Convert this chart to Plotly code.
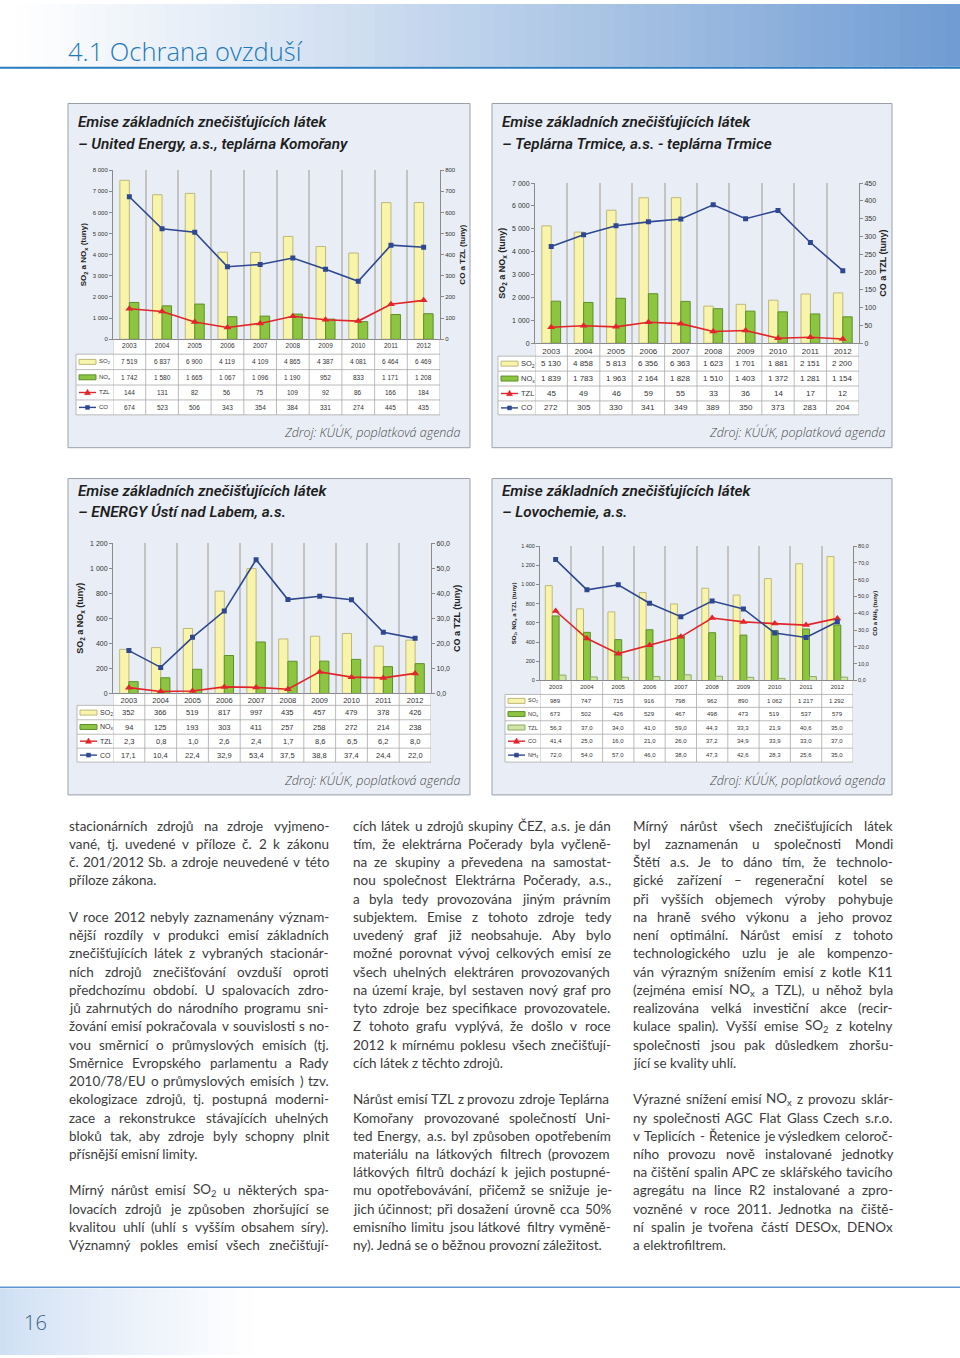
import re
import struct
import subprocess
import plotly.graph_objects as go

W, H = 960, 1358


def px(x):
    return x / W


def py(y):
    return 1 - y / H


# ---------------- DATA ----------------
years = ["2003", "2004", "2005", "2006", "2007", "2008", "2009", "2010", "2011", "2012"]

# United Energy, a.s., teplárna Komořany
ue_so2 = [7519, 6837, 6900, 4119, 4109, 4865, 4387, 4081, 6464, 6469]
ue_nox = [1742, 1580, 1665, 1067, 1096, 1190, 952, 833, 1171, 1208]
ue_tzl = [144, 131, 82, 56, 75, 109, 92, 86, 166, 184]
ue_co = [674, 523, 506, 343, 354, 384, 331, 274, 445, 435]

# Teplárna Trmice, a.s. - teplárna Trmice
tt_so2 = [5130, 4858, 5813, 6356, 6363, 1623, 1701, 1881, 2151, 2200]
tt_nox = [1839, 1783, 1963, 2164, 1828, 1510, 1403, 1372, 1281, 1154]
tt_tzl = [45, 49, 46, 59, 55, 33, 36, 14, 17, 12]
tt_co = [272, 305, 330, 341, 349, 389, 350, 373, 283, 204]

# ENERGY Ústí nad Labem, a.s.
eu_so2 = [352, 366, 519, 817, 997, 435, 457, 479, 378, 426]
eu_nox = [94, 125, 193, 303, 411, 257, 258, 272, 214, 238]
eu_tzl = [2.3, 0.8, 1.0, 2.6, 2.4, 1.7, 8.6, 6.5, 6.2, 8.0]
eu_co = [17.1, 10.4, 22.4, 32.9, 53.4, 37.5, 38.8, 37.4, 24.4, 22.0]

# Lovochemie, a.s.
lc_so2 = [989, 747, 715, 916, 798, 962, 890, 1062, 1217, 1292]
lc_nox = [673, 502, 426, 529, 467, 498, 473, 519, 537, 579]
lc_tzl = [56.3, 37.0, 34.0, 41.0, 59.0, 44.3, 33.3, 21.9, 40.6, 35.0]
lc_co = [41.4, 25.0, 16.0, 21.0, 26.0, 37.2, 34.9, 33.9, 33.0, 37.0]
lc_nh3 = [72.0, 54.0, 57.0, 46.0, 38.0, 47.3, 42.6, 28.3, 25.6, 35.0]

page_title = "4.1 Ochrana ovzduší"
panel_head = "Emise základních znečišťujících látek"
panel_names = ["– United Energy, a.s., teplárna Komořany",
               "– Teplárna Trmice, a.s. - teplárna Trmice",
               "– ENERGY Ústí nad Labem, a.s.",
               "– Lovochemie, a.s."]
source_text = "Zdroj: KÚÚK, poplatková agenda"
page_number = "16"

col1 = [
    "stacionárních zdrojů na zdroje vyjmeno-",
    "vané, tj. uvedené v příloze č. 2 k zákonu",
    "č. 201/2012 Sb. a zdroje neuvedené v této",
    "příloze zákona.",
    "",
    "V roce 2012 nebyly zaznamenány význam-",
    "nější rozdíly v produkci emisí základních",
    "znečišťujících látek z vybraných stacionár-",
    "ních zdrojů znečišťování ovzduší oproti",
    "předchozímu období. U spalovacích zdro-",
    "jů zahrnutých do národního programu sni-",
    "žování emisí pokračovala v souvislosti s no-",
    "vou směrnicí o průmyslových emisích (tj.",
    "Směrnice Evropského parlamentu a Rady",
    "2010/78/EU o průmyslových emisích ) tzv.",
    "ekologizace zdrojů, tj. postupná moderni-",
    "zace a rekonstrukce stávajících uhelných",
    "bloků tak, aby zdroje byly schopny plnit",
    "přísnější emisní limity.",
    "",
    "Mírný nárůst emisí SO<sub>2</sub> u některých spa-",
    "lovacích zdrojů je způsoben zhoršující se",
    "kvalitou uhlí (uhlí s vyšším obsahem síry).",
    "Významný pokles emisí všech znečišťují-",
]
col2 = [
    "cích látek u zdrojů skupiny ČEZ, a.s. je dán",
    "tím, že elektrárna Počerady byla vyčleně-",
    "na ze skupiny a převedena na samostat-",
    "nou společnost Elektrárna Počerady, a.s.,",
    "a byla tedy provozována jiným právním",
    "subjektem. Emise z tohoto zdroje tedy",
    "uvedený graf již neobsahuje. Aby bylo",
    "možné porovnat vývoj celkových emisí ze",
    "všech uhelných elektráren provozovaných",
    "na území kraje, byl sestaven nový graf pro",
    "tyto zdroje bez specifikace provozovatele.",
    "Z tohoto grafu vyplývá, že došlo v roce",
    "2012 k mírnému poklesu všech znečišťují-",
    "cích látek z těchto zdrojů.",
    "",
    "Nárůst emisí TZL z provozu zdroje Teplárna",
    "Komořany provozované společností Uni-",
    "ted Energy, a.s. byl způsoben opotřebením",
    "materiálu na látkových filtrech (provozem",
    "látkových filtrů dochází k jejich postupné-",
    "mu opotřebovávání, přičemž se snižuje je-",
    "jich účinnost; při dosažení úrovně cca 50%",
    "emisního limitu jsou látkové filtry vyměně-",
    "ny). Jedná se o běžnou provozní záležitost.",
]
col3 = [
    "Mírný nárůst všech znečišťujících látek",
    "byl zaznamenán u společnosti Mondi",
    "Štětí a.s. Je to dáno tím, že technolo-",
    "gické zařízení – regenerační kotel se",
    "při vyšších objemech výroby pohybuje",
    "na hraně svého výkonu a jeho provoz",
    "není optimální. Nárůst emisí z tohoto",
    "technologického uzlu je ale kompenzo-",
    "ván výrazným snížením emisí z kotle K11",
    "(zejména emisí NO<sub>x</sub> a TZL), u něhož byla",
    "realizována velká investiční akce (recir-",
    "kulace spalin). Vyšší emise SO<sub>2</sub> z kotelny",
    "společnosti jsou pak důsledkem zhoršu-",
    "jící se kvality uhlí.",
    "",
    "Výrazné snížení emisí NO<sub>x</sub> z provozu sklár-",
    "ny společnosti AGC Flat Glass Czech s.r.o.",
    "v Teplicích - Řetenice je výsledkem celoroč-",
    "ního provozu nově instalované jednotky",
    "na čištění spalin APC ze sklářského tavicího",
    "agregátu na lince R2 instalované a zpro-",
    "vozněné v roce 2011. Jednotka na čiště-",
    "ní spalin je tvořena částí DESOx, DENOx",
    "a elektrofiltrem.",
]

# ---------------- STYLES ----------------
SO2_FILL, SO2_EDGE = "#f8f4aa", "#bdb87c"
NOX_FILL, NOX_EDGE = "#8dc540", "#5f8f2c"
TZB_FILL, TZB_EDGE = "#cfe4a6", "#8aab62"
RED, BLUE = "#e2242b", "#2f4791"
GRID = "#c3c3c3"
AX = "#8a8a8a"
TXT = "#333333"
CHART_FONT = "Liberation Sans, Arial, sans-serif"
BODY_FONT = "Lato"

bar_style = {"so2": (SO2_FILL, SO2_EDGE), "nox": (NOX_FILL, NOX_EDGE), "tzb": (TZB_FILL, TZB_EDGE)}
line_style = {"red": (RED, "triangle-up", 7), "blue": (BLUE, "square", 5)}

SO2L, NOXL, NH3L = "SO<sub>2</sub>", "NO<sub>x</sub>", "NH<sub>3</sub>"

charts = [
    dict(x0=113, x1=440, ytop=167, y0=337, tab=76, rows=[337, 352, 367.5, 383, 398, 413],
         lmax=8000, ldt=1000, rmax=800, rdt=100, rfmt="d", tickfs=6, tabfs=6.5, titlefs=8,
         ltitle="SO<sub>2</sub> a NO<sub>x</sub> (tuny)", rtitle="CO a TZL (tuny)", bw=0.29,
         series=[("bar", SO2L, ue_so2, "so2", "int"), ("bar", NOXL, ue_nox, "nox", "int"),
                 ("line", "TZL", ue_tzl, "red", "int"), ("line", "CO", ue_co, "blue", "int")]),
    dict(x0=535, x1=859, ytop=180, y0=341, tab=498, rows=[341, 354, 369, 384, 399, 413],
         lmax=7000, ldt=1000, rmax=450, rdt=50, rfmt="d", tickfs=7, tabfs=8, titlefs=9,
         ltitle="SO<sub>2</sub> a NO<sub>x</sub> (tuny)", rtitle="CO a TZL (tuny)", bw=0.29,
         series=[("bar", SO2L, tt_so2, "so2", "int"), ("bar", NOXL, tt_nox, "nox", "int"),
                 ("line", "TZL", tt_tzl, "red", "int"), ("line", "CO", tt_co, "blue", "int")]),
    dict(x0=113, x1=431, ytop=542, y0=693, tab=77, rows=[693, 705, 719.5, 734, 748, 762],
         lmax=1200, ldt=200, rmax=60, rdt=10, rfmt=".1f", tickfs=7, tabfs=7.5, titlefs=9,
         ltitle="SO<sub>2</sub> a NO<sub>x</sub> (tuny)", rtitle="CO a TZL (tuny)", bw=0.29,
         series=[("bar", SO2L, eu_so2, "so2", "int"), ("bar", NOXL, eu_nox, "nox", "int"),
                 ("line", "TZL", eu_tzl, "red", "dec"), ("line", "CO", eu_co, "blue", "dec")]),
    dict(x0=540, x1=853, ytop=545, y0=680, tab=505, rows=[680, 694, 707, 720.5, 734, 748, 762],
         lmax=1400, ldt=200, rmax=80, rdt=10, rfmt=".1f", tickfs=5.5, tabfs=6, titlefs=6,
         ltitle="SO<sub>2</sub>, NO<sub>x</sub> a TZL (tuny)", rtitle="CO a NH<sub>3</sub> (tuny)", bw=0.22,
         series=[("bar", SO2L, lc_so2, "so2", "int"), ("bar", NOXL, lc_nox, "nox", "int"),
                 ("bar", "TZL", lc_tzl, "tzb", "dec"), ("line", "CO", lc_co, "red", "dec"),
                 ("line", NH3L, lc_nh3, "blue", "dec")]),
]

panels = [
    dict(x0=68, y0=100, x1=470, y1=446, ty=[119, 141], tx=76, sx=462, sy=431),
    dict(x0=492, y0=100, x1=892, y1=446, ty=[119, 141], tx=500, sx=887, sy=431),
    dict(x0=68, y0=477, x1=470, y1=795, ty=[490, 511], tx=76, sx=462, sy=781),
    dict(x0=492, y0=477, x1=892, y1=795, ty=[490, 511], tx=500, sx=887, sy=781),
]


def fmt_val(v, kind):
    if kind == "int":
        return f"{int(round(v)):,}".replace(",", " ")
    return f"{v:.1f}".replace(".", ",")


def lerp(c1, c2, t):
    return "#%02x%02x%02x" % tuple(round(a + (b - a) * t) for a, b in zip(c1, c2))


shapes = []
ann = []

# ---------------- PAGE HEADER ----------------
N = 64
for i in range(N):
    t = i / (N - 1)
    shapes.append(dict(type="rect", xref="paper", yref="paper", layer="below",
                       x0=px(i * W / N), x1=px((i + 1) * W / N + 1), y0=py(63), y1=py(0),
                       fillcolor=lerp((255, 255, 255), (112, 156, 211), t ** 1.1), line_width=0))
shapes.append(dict(type="line", xref="paper", yref="paper", x0=0, x1=1, y0=py(64), y1=py(64),
                   line=dict(color="#2a7cc0", width=2)))
ann.append(dict(text=page_title, x=px(66), y=py(47), xref="paper", yref="paper", xanchor="left",
                yanchor="middle", showarrow=False,
                font=dict(family="Open Sans", size=25.5, color="#1e79ba", weight=300)))

# ---------------- FOOTER ----------------
NF = 40
for i in range(NF):
    t = i / (NF - 1)
    shapes.append(dict(type="rect", xref="paper", yref="paper", layer="below",
                       x0=px(i * 260 / NF), x1=px((i + 1) * 260 / NF + 1), y0=0, y1=py(1291),
                       fillcolor=lerp((206, 223, 243), (255, 255, 255), t ** 0.8), line_width=0))
shapes.append(dict(type="line", xref="paper", yref="paper", x0=0, x1=1, y0=py(1290), y1=py(1290),
                   line=dict(color="#5d96d2", width=1.5)))
ann.append(dict(text=page_number, x=px(35), y=py(1325), xref="paper", yref="paper", showarrow=False,
                xanchor="center", yanchor="middle",
                font=dict(family="Open Sans", size=20, color="#3a5f86", weight=300)))

# ---------------- PANELS ----------------
for p, name in zip(panels, panel_names):
    shapes.append(dict(type="rect", xref="paper", yref="paper", layer="below",
                       x0=px(p["x0"]), x1=px(p["x1"]), y0=py(p["y1"]), y1=py(p["y0"]),
                       fillcolor="#e9eef6", line=dict(color="#9aa0a8", width=1)))
    for txt, yy in zip([panel_head, name], p["ty"]):
        ann.append(dict(text=txt, x=px(p["tx"]), y=py(yy), xref="paper", yref="paper",
                        xanchor="left", yanchor="middle", showarrow=False,
                        font=dict(family="Liberation Sans Narrow, Roboto, Liberation Sans", size=15.3,
                                  color="#1e1e1e", style="italic", weight=600)))
    ann.append(dict(text=source_text, x=px(p["sx"]), y=py(p["sy"]), xref="paper", yref="paper",
                    xanchor="right", yanchor="middle", showarrow=False,
                    font=dict(family="Open Sans", size=12.5, color="#4a4a4a", style="italic", weight=300)))

# ---------------- CHARTS ----------------
fig = go.Figure()
axes = {}
for k, c in enumerate(charts):
    xn = "" if k == 0 else str(k + 1)
    xa = "x" + xn
    li, ri = 2 * k + 1, 2 * k + 2
    ly = "y" if li == 1 else f"y{li}"
    ry = f"y{ri}"
    tickfont = dict(family=CHART_FONT, size=c["tickfs"], color=TXT)
    titlefont = dict(family=CHART_FONT, size=c["titlefs"], color="#222")
    axes["xaxis" + xn] = dict(domain=[px(c["x0"]), px(c["x1"])], anchor=ly, type="category",
                              categoryorder="array", categoryarray=years, range=[-0.5, 9.5],
                              tickson="boundaries", showgrid=True, gridcolor=GRID, gridwidth=1.6,
                              showline=True, linecolor=AX, linewidth=1, ticks="",
                              tickfont=dict(family=CHART_FONT, size=c["tabfs"], color=TXT))
    axes["yaxis" + ("" if li == 1 else str(li))] = dict(
        domain=[py(c["y0"]), py(c["ytop"])], anchor=xa, range=[0, c["lmax"]], dtick=c["ldt"],
        tick0=0, showgrid=False, zeroline=False, showline=True, linecolor=AX, linewidth=1,
        ticks="outside", ticklen=3, tickcolor=AX, separatethousands=True, tickfont=tickfont,
        title=dict(text="<b>" + c["ltitle"] + "</b>", font=titlefont, standoff=4))
    axes[f"yaxis{ri}"] = dict(
        overlaying=ly, side="right", anchor=xa, range=[0, c["rmax"]], dtick=c["rdt"], tick0=0,
        tickformat=c["rfmt"], showgrid=False, zeroline=False, showline=True, linecolor=AX,
        linewidth=1, ticks="outside", ticklen=3, tickcolor=AX, tickfont=tickfont,
        title=dict(text="<b>" + c["rtitle"] + "</b>", font=titlefont, standoff=4))

    bars = [s for s in c["series"] if s[0] == "bar"]
    nb = len(bars)
    for i, s in enumerate(bars):
        fill, edge = bar_style[s[3]]
        fig.add_trace(go.Bar(x=years, y=s[2], xaxis=xa, yaxis=ly, width=c["bw"],
                             offset=-nb * c["bw"] / 2 + i * c["bw"],
                             marker=dict(color=fill, line=dict(color=edge, width=1)),
                             showlegend=False, hoverinfo="skip"))
    for s in c["series"]:
        if s[0] != "line":
            continue
        col, sym, sz = line_style[s[3]]
        fig.add_trace(go.Scatter(x=years, y=s[2], xaxis=xa, yaxis=ry, mode="lines+markers",
                                 line=dict(color=col, width=1.6),
                                 marker=dict(symbol=sym, size=sz, color=col),
                                 showlegend=False, hoverinfo="skip"))

    # ----- data table under the chart -----
    rows = c["rows"]
    tab = c["tab"]
    bcol = "#a9a9a9"
    shapes.append(dict(type="rect", xref="paper", yref="paper", layer="below",
                       x0=px(c["x0"]), x1=px(c["x1"]), y0=py(rows[1]), y1=py(rows[0]),
                       fillcolor="white", line_width=0))
    shapes.append(dict(type="rect", xref="paper", yref="paper", layer="below",
                       x0=px(tab), x1=px(c["x1"]), y0=py(rows[-1]), y1=py(rows[1]),
                       fillcolor="white", line_width=0))
    for r in rows[1:]:
        shapes.append(dict(type="line", xref="paper", yref="paper", x0=px(tab), x1=px(c["x1"]),
                           y0=py(r), y1=py(r), line=dict(color=bcol, width=0.8)))
    shapes.append(dict(type="line", xref="paper", yref="paper", x0=px(tab), x1=px(tab),
                       y0=py(rows[1]), y1=py(rows[-1]), line=dict(color=bcol, width=0.8)))
    for j in range(len(years) + 1):
        shapes.append(dict(type="line", xref=xa, yref="paper", x0=j - 0.5, x1=j - 0.5,
                           y0=py(rows[0]), y1=py(rows[-1]), line=dict(color=bcol, width=0.8)))
    for i, s in enumerate(c["series"]):
        yc = (rows[i + 1] + rows[i + 2]) / 2
        for j, v in enumerate(s[2]):
            # category axes take the category's serial number for annotation positions
            ann.append(dict(text=fmt_val(v, s[4]), x=years.index(years[j]), xref=xa, y=py(yc),
                            yref="paper", showarrow=False, xanchor="center", yanchor="middle",
                            font=dict(family=CHART_FONT, size=c["tabfs"], color=TXT)))
        sx0, sx1 = tab + 3, tab + 20
        if s[0] == "bar":
            fill, edge = bar_style[s[3]]
            shapes.append(dict(type="rect", xref="paper", yref="paper", x0=px(sx0), x1=px(sx1),
                               y0=py(yc + 2.5), y1=py(yc - 2.5), fillcolor=fill,
                               line=dict(color=edge, width=1)))
        else:
            col, sym, sz = line_style[s[3]]
            shapes.append(dict(type="line", xref="paper", yref="paper", x0=px(sx0), x1=px(sx1),
                               y0=py(yc), y1=py(yc), line=dict(color=col, width=1.4)))
            mx = (sx0 + sx1) / 2
            if sym == "square":
                pth = (f"M {px(mx-2)} {py(yc-2)} L {px(mx+2)} {py(yc-2)} L {px(mx+2)} {py(yc+2)} "
                       f"L {px(mx-2)} {py(yc+2)} Z")
            else:
                pth = f"M {px(mx-3)} {py(yc+2.2)} L {px(mx+3)} {py(yc+2.2)} L {px(mx)} {py(yc-3.2)} Z"
            shapes.append(dict(type="path", xref="paper", yref="paper", path=pth, fillcolor=col,
                               line=dict(color=col, width=0.5)))
        ann.append(dict(text=s[1], x=px(sx1 + 1), y=py(yc), xref="paper", yref="paper",
                        showarrow=False, xanchor="left", yanchor="middle",
                        font=dict(family=CHART_FONT, size=c["tabfs"] - 0.5, color=TXT)))


# ---------------- BODY TEXT (justified) ----------------
def load_metrics(family):
    try:
        path = subprocess.run(["fc-match", "-f", "%{file}", family], capture_output=True,
                              text=True, timeout=5).stdout.strip()
        data = open(path, "rb").read()
        base = 0
        if data[:4] == b"ttcf":
            base = struct.unpack(">I", data[12:16])[0]
        nt = struct.unpack(">H", data[base + 4:base + 6])[0]
        tables = {}
        for i in range(nt):
            tag, _, off, ln = struct.unpack(">4sIII", data[base + 12 + 16 * i:base + 28 + 16 * i])
            tables[tag.decode("latin-1")] = off
        upem = struct.unpack(">H", data[tables["head"] + 18:tables["head"] + 20])[0]
        nhm = struct.unpack(">H", data[tables["hhea"] + 34:tables["hhea"] + 36])[0]
        hoff = tables["hmtx"]
        adv = [struct.unpack(">H", data[hoff + 4 * i:hoff + 4 * i + 2])[0] for i in range(nhm)]
        coff = tables["cmap"]
        n = struct.unpack(">H", data[coff + 2:coff + 4])[0]
        seginfo = None
        for i in range(n):
            pid, eid, soff = struct.unpack(">HHI", data[coff + 4 + 8 * i:coff + 12 + 8 * i])
            sub = coff + soff
            f = struct.unpack(">H", data[sub:sub + 2])[0]
            if f == 4 and ((pid == 3 and eid == 1) or pid == 0):
                sx2 = struct.unpack(">H", data[sub + 6:sub + 8])[0]
                sg = sx2 // 2
                ends = struct.unpack(">%dH" % sg, data[sub + 14:sub + 14 + sx2])
                starts = struct.unpack(">%dH" % sg, data[sub + 16 + sx2:sub + 16 + 2 * sx2])
                deltas = struct.unpack(">%dh" % sg, data[sub + 16 + 2 * sx2:sub + 16 + 3 * sx2])
                rpos = sub + 16 + 3 * sx2
                roffs = struct.unpack(">%dH" % sg, data[rpos:rpos + sx2])
                seginfo = (ends, starts, deltas, rpos, roffs)
                break
        if seginfo is None:
            return None
        ends, starts, deltas, rpos, roffs = seginfo

        def glyph(cp):
            for s in range(len(ends)):
                if ends[s] >= cp:
                    if starts[s] > cp:
                        return 0
                    if roffs[s] == 0:
                        return (cp + deltas[s]) & 0xFFFF
                    addr = rpos + 2 * s + roffs[s] + 2 * (cp - starts[s])
                    g = struct.unpack(">H", data[addr:addr + 2])[0]
                    return (g + deltas[s]) & 0xFFFF if g else 0
            return 0

        cache = {}

        def width(ch):
            if ch not in cache:
                g = glyph(ord(ch))
                cache[ch] = (adv[g] if g < nhm else adv[-1]) / upem
            return cache[ch]
        return width
    except Exception:
        return None


wfn = load_metrics(BODY_FONT)


def measure(s):
    tot = 0.0
    for m in re.finditer(r"<sub>(.*?)</sub>|([^<]+)", s):
        if m.group(1) is not None:
            tot += 0.7 * sum(wfn(ch) for ch in m.group(1))
        else:
            tot += sum(wfn(ch) for ch in m.group(2))
    return tot


columns = [(col1, 68, 328), (col2, 352, 610), (col3, 632, 892)]
LINE0, LSTEP = 826, 18.33
TEXT_COLOR = "#3b3b3b"

if wfn is not None:
    maxratio = 0
    for lines, a, b in columns:
        for ln in lines:
            if ln:
                maxratio = max(maxratio, measure(ln) / (b - a))
    fs = min(14.2, 0.995 / maxratio)
else:
    fs = 13

for lines, a, b in columns:
    for i, ln in enumerate(lines):
        if not ln:
            continue
        yy = py(LINE0 + i * LSTEP)
        last = (i == len(lines) - 1 and ln.endswith(".")) or (i + 1 < len(lines) and lines[i + 1] == "")
        font = dict(family=BODY_FONT, size=fs, color=TEXT_COLOR)
        if wfn is None or last:
            ann.append(dict(text=ln, x=px(a), y=yy, xref="paper", yref="paper", xanchor="left",
                            yanchor="middle", showarrow=False, borderpad=0, font=font))
            continue
        words = ln.split(" ")
        widths = [measure(w) * fs for w in words]
        gap = (b - a - sum(widths)) / max(1, len(words) - 1)
        x = a
        for w, ww in zip(words, widths):
            ann.append(dict(text=w, x=px(x), y=yy, xref="paper", yref="paper", xanchor="left",
                            yanchor="middle", showarrow=False, borderpad=0, font=font))
            x += ww + gap

fig.update_layout(width=W, height=H, margin=dict(l=0, r=0, t=0, b=0), autosize=False,
                  paper_bgcolor="white", plot_bgcolor="white", separators=", ",
                  showlegend=False, shapes=shapes, annotations=ann, barmode="overlay", **axes)
fig.write_html("out.html", config={"displayModeBar": False},
               post_script="document.body.style.margin='0px';")
